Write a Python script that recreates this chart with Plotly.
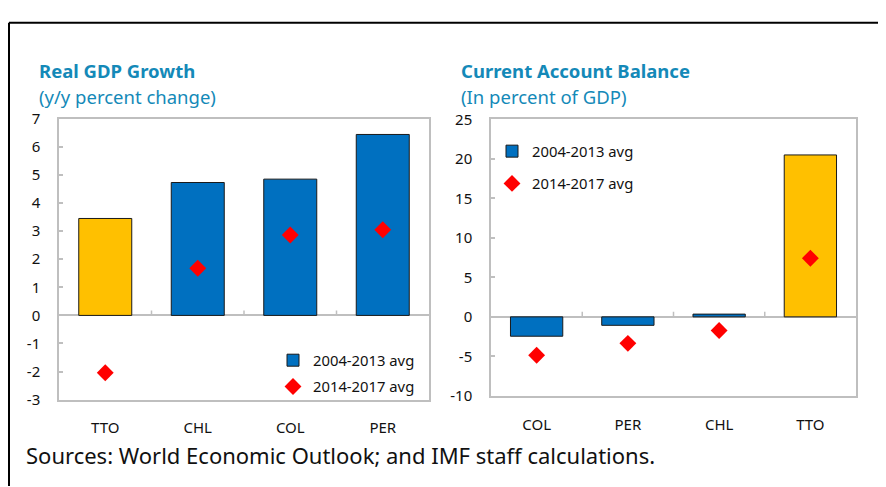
import plotly.graph_objects as go

# Real GDP Growth (y/y percent change)
gdp_countries = ['TTO', 'CHL', 'COL', 'PER']
gdp_2004_2013 = [3.45, 4.73, 4.85, 6.44]
gdp_2014_2017 = [-2.04, 1.68, 2.86, 3.05]
gdp_highlight = ['TTO']
gdp_ticks = [-3, -2, -1, 0, 1, 2, 3, 4, 5, 6, 7]

# Current Account Balance (In percent of GDP)
ca_countries = ['COL', 'PER', 'CHL', 'TTO']
ca_2004_2013 = [-2.45, -1.07, 0.35, 20.5]
ca_2014_2017 = [-4.85, -3.35, -1.72, 7.43]
ca_highlight = ['TTO']
ca_ticks = [-10, -5, 0, 5, 10, 15, 20, 25]

FONT = 'Noto Sans'
TITLE_COLOR = '#1489B8'
GRID = '#BFBFBF'
BLUE = '#0070C0'
YELLOW = '#FFC000'
W, H = 886, 487
OFF = 8  # page body margin in the browser


def px_x(x):
    return (x - OFF) / W


def px_y(y):
    return 1 - (y - OFF) / H


fig = go.Figure()


def add_panel(countries, bars, dots, highlight, xa, ya, lg):
    blue = [(c, v) for c, v in zip(countries, bars) if c not in highlight]
    yel = [(c, v) for c, v in zip(countries, bars) if c in highlight]
    fig.add_trace(go.Bar(
        x=[c for c, _ in blue], y=[v for _, v in blue], name='2004-2013 avg',
        marker=dict(color=BLUE, line=dict(color='#1a1a1a', width=1)),
        width=0.573, xaxis=xa, yaxis=ya, legend=lg, legendgroup=lg + 'a',
    ))
    fig.add_trace(go.Bar(
        x=[c for c, _ in yel], y=[v for _, v in yel], name='2004-2013 avg',
        marker=dict(color=YELLOW, line=dict(color='#1a1a1a', width=1)),
        width=0.573, xaxis=xa, yaxis=ya, showlegend=False, legendgroup=lg + 'a',
    ))
    fig.add_trace(go.Scatter(
        x=countries, y=dots, name='2014-2017 avg', mode='markers',
        marker=dict(symbol='diamond', size=13, color='#FF0000'),
        xaxis=xa, yaxis=ya, legend=lg, legendgroup=lg + 'b',
    ))


add_panel(gdp_countries, gdp_2004_2013, gdp_2014_2017, gdp_highlight, 'x', 'y', 'legend')
add_panel(ca_countries, ca_2004_2013, ca_2014_2017, ca_highlight, 'x2', 'y2', 'legend2')

tickfont = dict(family=FONT, size=15, color='#111111')
xcommon = dict(
    showline=True, linecolor=GRID, linewidth=1.5, mirror=True,
    showgrid=False, ticks='', zeroline=False, tickfont=tickfont,
    ticklabelstandoff=14, fixedrange=True,
)
ycommon = dict(
    showline=True, linecolor=GRID, linewidth=1.5, mirror=True,
    showgrid=False, ticks='inside', ticklen=4, tickcolor=GRID, tickwidth=1.5,
    zeroline=True, zerolinecolor=GRID, zerolinewidth=1.5, tickfont=tickfont,
    ticklabelstandoff=14, fixedrange=True,
)
legfont = dict(family=FONT, size=14.8, color='#111111')

fig.update_layout(
    width=W, height=H,
    margin=dict(l=0, r=0, t=0, b=0),
    paper_bgcolor='white', plot_bgcolor='white',
    font=dict(family=FONT, size=14, color='#111111'),
    barmode='overlay',
    xaxis=dict(domain=[px_x(59), px_x(429)], anchor='y', range=[-0.5, 3.5],
               categoryorder='array', categoryarray=gdp_countries, **xcommon),
    yaxis=dict(domain=[px_y(405), px_y(112)], anchor='x', range=[-3, 7],
               tickvals=gdp_ticks, ticktext=[str(t) for t in gdp_ticks], **ycommon),
    xaxis2=dict(domain=[px_x(491), px_x(856)], anchor='y2', range=[-0.5, 3.5],
                categoryorder='array', categoryarray=ca_countries, **xcommon),
    yaxis2=dict(domain=[px_y(401), px_y(112.7)], anchor='x2', range=[-10, 25],
                tickvals=ca_ticks, ticktext=[str(t) for t in ca_ticks], **ycommon),
    legend=dict(x=px_x(273), y=px_y(347), xanchor='left', yanchor='top',
                bgcolor='rgba(0,0,0,0)', tracegroupgap=4, font=legfont),
    legend2=dict(x=px_x(492), y=px_y(129), xanchor='left', yanchor='top',
                 bgcolor='rgba(0,0,0,0)', tracegroupgap=10, font=legfont),
)

# short category divider ticks rising from the zero line
for xa, ya, n in (('x', 'y', len(gdp_countries)), ('x2', 'y2', len(ca_countries))):
    for i in range(1, n):
        fig.add_shape(type='line', xref=xa, yref=ya, ysizemode='pixel', yanchor=0,
                      x0=i - 0.5, x1=i - 0.5, y0=0, y1=5,
                      line=dict(color=GRID, width=1.5))

# outer frame (top and left edges)
fig.add_shape(type='line', xref='paper', yref='paper', x0=px_x(9), x1=1.0,
              y0=px_y(12), y1=px_y(12), line=dict(color='black', width=2))
fig.add_shape(type='line', xref='paper', yref='paper', x0=px_x(9), x1=px_x(9),
              y0=0.0, y1=px_y(12), line=dict(color='black', width=2))

titles = [
    (37, 62, '<b>Real GDP Growth</b>'),
    (37, 89, '(y/y percent change)'),
    (459, 62, '<b>Current Account Balance</b>'),
    (459, 89, '(In percent of GDP)'),
]
for tx, ty, txt in titles:
    fig.add_annotation(x=px_x(tx), y=px_y(ty), xref='paper', yref='paper',
                       xanchor='left', yanchor='middle', text=txt, showarrow=False,
                       font=dict(family=FONT, size=18.5, color=TITLE_COLOR))

fig.add_annotation(x=px_x(24), y=px_y(463), xref='paper', yref='paper',
                   xanchor='left', yanchor='middle', showarrow=False,
                   text='Sources: World Economic Outlook; and IMF staff calculations.',
                   font=dict(family=FONT, size=22, color='#111111'))

fig.write_html('out.html')
